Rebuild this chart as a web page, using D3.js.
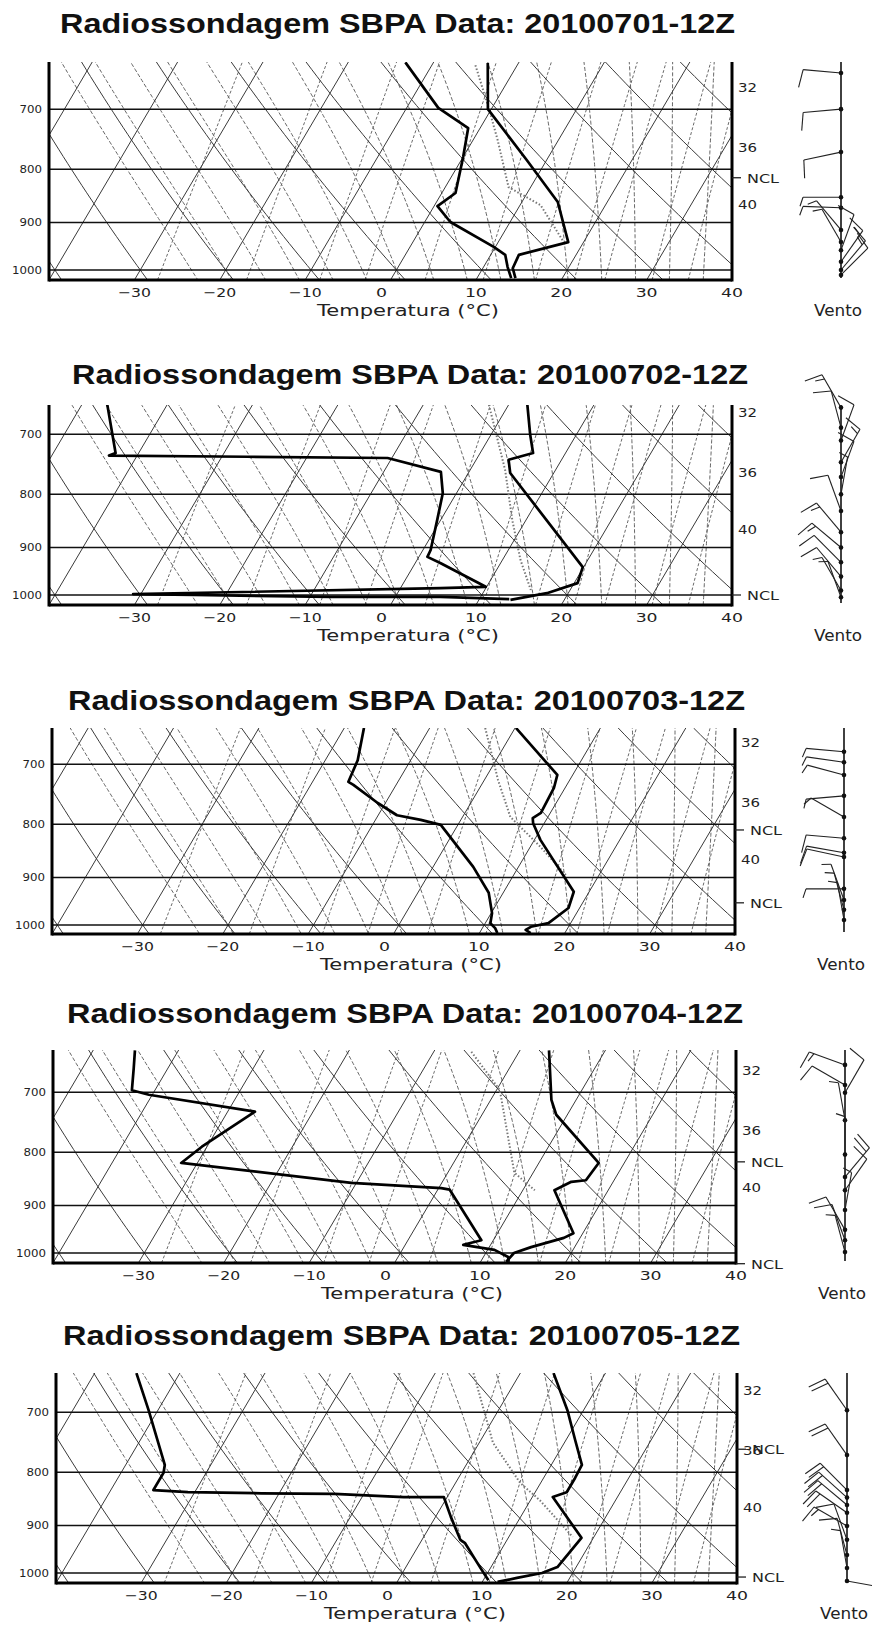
<!DOCTYPE html>
<html><head><meta charset="utf-8">
<script src="https://cdn.jsdelivr.net/npm/d3@7"></script>
<style>body{margin:0;background:#fff}</style>
</head><body>
<svg id="chart" width="872" height="1630"></svg>
<script>
// ---------------- DATA ----------------
const dates = ["20100701","20100702","20100703","20100704","20100705"];
const tempTicks = [-30,-20,-10,0,10,20,30,40];
const pressureTicks = [700,800,900,1000];
const rightTickP = [666,761,864];
const rightTickLabels = ["32","36","40"];
const nclP = [[815],[1000],[810,952],[817,1024],[760,1009]];

// [pressure hPa, temperature °C]
const temp1 = [[632,-3.6],[700,-0.4],[784,7.7],[860,14.2],[940,18.2],[967,13.3],[996,13.5],[1018,14.5]];
const dew1  = [[631,-13.3],[698,-6.3],[730,-1.4],[778,0.0],[843,1.6],[868,0.4],[899,3.0],[950,9.8],[967,11.7],[993,12.8],[1018,14.0]];
const parcel1 = [[635,-4.9],[698,-0.4],[750,2.9],[832,7.4],[866,12.4],[936,17.4]];

const temp2 = [[656,2.2],[701,4.6],[730,6.2],[741,3.8],[763,4.9],[940,19.9],[974,20.4],[996,17.5],[1011,13.7]];
const dew2  = [[656,-47.0],[730,-42.7],[734,-43.3],[736,-27.0],[738,-10.5],[761,-3.3],[798,-1.6],[847,-0.4],[905,0.9],[919,1.0],[932,3.0],[982,9.9],[985,4.7],[998,-30.9],[1000,-23.7],[1004,-7.6],[1004,5.3],[1009,13.5]];
const parcel2 = [[656,-2.3],[758,4.1],[847,8.4],[925,12.1],[989,15.4]];

const temp3 = [[646,0.1],[717,8.2],[738,8.7],[780,8.9],[789,8.3],[798,8.7],[828,10.7],[929,18.2],[963,18.7],[996,17.4],[1004,15.6],[1011,15.2],[1018,16.0]];
const dew3  = [[646,-17.7],[694,-16.2],[728,-15.8],[733,-15.0],[763,-10.9],[784,-7.8],[792,-4.7],[801,-2.0],[879,4.7],[931,8.3],[974,10.1],[996,10.6],[1007,11.5],[1018,12.1]];
const parcel3 = [[646,-3.5],[725,1.6],[787,5.6],[841,11.2],[895,16.1]];

const temp4 = [[638,3.4],[712,7.1],[736,8.7],[819,17.0],[851,16.7],[854,15.1],[870,13.7],[957,18.9],[967,18.1],[987,14.9],[1000,13.3],[1020,13.0]];
const dew4  = [[638,-45.1],[664,-44.0],[697,-42.7],[704,-40.4],[731,-26.8],[790,-30.6],[819,-31.9],[856,-10.6],[866,0.3],[869,1.4],[972,8.6],[982,6.8],[993,10.8],[1009,12.9],[1020,13.3]];
const parcel4 = [[640,-5.6],[697,0.4],[837,7.8],[870,11.4]];

const temp5 = [[642,3.9],[697,8.1],[745,11.1],[787,13.6],[810,13.7],[836,13.7],[845,12.4],[925,18.6],[987,17.8],[1000,16.4],[1011,13.8],[1020,11.8]];
const dew5  = [[642,-45.1],[697,-41.1],[787,-35.4],[801,-35.0],[832,-35.0],[836,-30.8],[838,-22.1],[839,-13.5],[845,-5.1],[845,-0.4],[883,1.8],[929,4.5],[936,5.3],[987,8.7],[1016,10.6]];
const parcel5 = [[642,-5.5],[749,1.6],[819,7.6],[851,11.1],[923,17.5]];

// [pressure hPa, direction deg, speed kt]
const wind1 = [[646,275,10],[700,265,10],[770,258,10],[851,270,5],[871,272,5],[915,320,5],[940,330,5],[957,20,10],[982,35,15],[1000,40,15],[1011,45,10]];
const wind2 = [[660,330,15],[690,345,10],[710,20,10],[745,30,15],[770,20,10],[800,10,5],[830,340,10],[870,320,15],[900,310,15],[930,315,10],[960,320,10],[990,330,5],[1005,340,5]];
const wind3 = [[681,275,5],[697,278,5],[717,285,5],[751,265,5],[787,300,5],[825,275,10],[852,280,10],[860,282,10],[923,270,5],[946,340,5],[967,345,5],[989,350,5]];
const wind4 = [[659,290,15],[689,300,10],[701,30,10],[745,350,5],[804,0,5],[845,40,20],[870,35,10],[909,10,5],[950,330,10],[972,340,10],[998,345,5]];
const wind5 = [[697,325,20],[770,325,20],[832,315,20],[846,312,20],[860,310,20],[875,305,20],[901,300,15],[929,340,10],[961,345,10],[989,350,5],[1018,100,5]];

const temps = [temp1,temp2,temp3,temp4,temp5];
const dews = [dew1,dew2,dew3,dew4,dew5];
const parcels = [parcel1,parcel2,parcel3,parcel4,parcel5];
const winds = [wind1,wind2,wind3,wind4,wind5];

// background reference-line families
const isotherms = d3.range(-120, 50, 10);
const dryAdiabats = d3.range(-40, 150, 10);
const moistAdiabats = d3.range(-24, 40, 4);
const mixingRatios = [0.4, 1, 2, 3, 5, 8, 12, 16, 20, 28, 36];

// ---------------- LAYOUT ----------------
const layout = [
 {xL:49, xR:732, yTop:62,   y1000:270,  yBot:280,  tx0:60, tx1:735, ty:33,   wx:841},
 {xL:49, xR:732, yTop:405,  y1000:595,  yBot:605,  tx0:72, tx1:748, ty:384,  wx:841},
 {xL:52, xR:735, yTop:728,  y1000:925,  yBot:934,  tx0:68, tx1:745, ty:710,  wx:844},
 {xL:53, xR:736, yTop:1050, y1000:1253, yBot:1263, tx0:67, tx1:743, ty:1023, wx:845},
 {xL:56, xR:737, yTop:1373, y1000:1573, yBot:1583, tx0:63, tx1:740, ty:1345, wx:847}
];
const skew = 0.59;
const pxPerLn = 451;

const Rd=287.04, cp=1005.7, Lv=2.501e6, eps=0.622;
function es(Tc){return 6.112*Math.exp(17.67*Tc/(Tc+243.5));}
function moistCurve(thw, pTop, pBot){
  const step=0.006;
  const f = (T,p)=>{const e=es(T-273.15); const rs=eps*e/(p-e);
    return (Rd*T+Lv*rs)/(cp+Lv*Lv*rs*eps/(Rd*T*T));};
  let T=thw+273.15, lnp=Math.log(1000);
  const up=[[1000,thw]];
  while(lnp>Math.log(pTop)-0.01){ T-=f(T,Math.exp(lnp))*step; lnp-=step; up.push([Math.exp(lnp),T-273.15]); }
  T=thw+273.15; lnp=Math.log(1000);
  const down=[];
  while(lnp<Math.log(pBot)+0.01){ T+=f(T,Math.exp(lnp))*step; lnp+=step; down.push([Math.exp(lnp),T-273.15]); }
  return down.reverse().concat(up);
}
function mixCurve(w, pTop, pBot){
  return d3.range(0,21).map(i=>{
    const p=pBot*Math.pow(pTop/pBot,i/20);
    const e=(w/1000)*p/(eps+w/1000); const L=Math.log(e/6.112);
    return [p, 243.5*L/(17.67-L)];
  });
}

const svg = d3.select("#chart");
const defs = svg.append("defs");
const labelFont = "'DejaVu Sans', sans-serif";

layout.forEach((L,i)=>{
  const g = svg.append("g");
  const yS = d3.scaleLog().domain([1000,700]).range([L.y1000, L.y1000 - pxPerLn*Math.log(1000/700)]);
  const xS = d3.scaleLinear().domain([-40,40]).range([L.xL, L.xR]);
  const pTop = yS.invert(L.yTop), pBot = yS.invert(L.yBot);
  const sx = (T,p)=> xS(T) + skew*(L.yBot - yS(p));
  const line = d3.line().x(d=>sx(d[1],d[0])).y(d=>yS(d[0]));

  defs.append("clipPath").attr("id","clip"+i).append("rect")
    .attr("x",L.xL).attr("y",L.yTop).attr("width",L.xR-L.xL).attr("height",L.yBot-L.yTop);
  const bg = g.append("g").attr("clip-path",`url(#clip${i})`).attr("fill","none");
  const pSamples = d3.range(0,31).map(k=>pBot*Math.pow(pTop/pBot,k/30));

  mixingRatios.forEach(w=>{
    bg.append("path").attr("d",line(mixCurve(w,pTop,pBot)))
      .attr("stroke","#6a6a6a").attr("stroke-width",1).attr("stroke-dasharray","3,2");
  });
  moistAdiabats.forEach(t=>{
    bg.append("path").attr("d",line(moistCurve(t,pTop,pBot)))
      .attr("stroke","#666").attr("stroke-width",1).attr("stroke-dasharray","4,2");
  });
  dryAdiabats.forEach(th=>{
    const pts = pSamples.map(p=>[p,(th+273.15)*Math.pow(p/1000,0.2857)-273.15]);
    bg.append("path").attr("d",line(pts)).attr("stroke","#3a3a3a").attr("stroke-width",1);
  });
  isotherms.forEach(t=>{
    bg.append("path").attr("d",line([[pBot,t],[pTop,t]])).attr("stroke","#3a3a3a").attr("stroke-width",1);
  });

  // pressure lines
  pressureTicks.forEach(p=>{
    g.append("line").attr("x1",L.xL).attr("x2",L.xR).attr("y1",yS(p)).attr("y2",yS(p))
      .attr("stroke","#111").attr("stroke-width",1.5);
    g.append("text").attr("x",L.xL-7).attr("y",yS(p)+4).attr("text-anchor","end")
      .attr("font-family",labelFont).attr("font-size",11).attr("fill","#222")
      .attr("textLength", String(p).length*7.5).attr("lengthAdjust","spacingAndGlyphs").text(p);
  });

  // parcel (dotted)
  g.append("path").attr("clip-path",`url(#clip${i})`).attr("d",line(parcels[i])).attr("fill","none")
    .attr("stroke","#777").attr("stroke-width",2).attr("stroke-dasharray","1.5,2");

  // profiles
  [dews[i], temps[i]].forEach(arr=>{
    g.append("path").attr("clip-path",`url(#clip${i})`).attr("d",line(arr)).attr("fill","none")
      .attr("stroke","#000").attr("stroke-width",2.7).attr("stroke-linejoin","round");
  });

  // axes frame
  g.append("line").attr("x1",L.xL).attr("x2",L.xL).attr("y1",L.yTop).attr("y2",L.yBot+1.5).attr("stroke","#000").attr("stroke-width",3);
  g.append("line").attr("x1",L.xR).attr("x2",L.xR).attr("y1",L.yTop).attr("y2",L.yBot+1.5).attr("stroke","#000").attr("stroke-width",3);
  g.append("line").attr("x1",L.xL).attr("x2",L.xR).attr("y1",L.yBot).attr("y2",L.yBot).attr("stroke","#000").attr("stroke-width",3);

  // x tick labels
  tempTicks.forEach(t=>{
    const lab = t<0 ? "\u2212"+Math.abs(t) : String(t);
    g.append("text").attr("x",xS(t) + (t===0?-9:0)).attr("y",L.yBot+17).attr("text-anchor","middle")
      .attr("font-family",labelFont).attr("font-size",13).attr("fill","#222")
      .attr("textLength", lab.length*11).attr("lengthAdjust","spacingAndGlyphs").text(lab);
  });
  g.append("text").attr("x",L.xL+359).attr("y",L.yBot+36).attr("text-anchor","middle")
    .attr("font-family",labelFont).attr("font-size",15).attr("fill","#222")
    .attr("textLength",182).attr("lengthAdjust","spacingAndGlyphs").text("Temperatura (°C)");

  // right labels
  rightTickP.forEach((p,k)=>{
    g.append("text").attr("x",L.xR+6).attr("y",yS(p)+5)
      .attr("font-family",labelFont).attr("font-size",13).attr("fill","#222")
      .attr("textLength",19).attr("lengthAdjust","spacingAndGlyphs").text(rightTickLabels[k]);
  });
  nclP[i].forEach(p=>{
    const y = yS(p);
    g.append("line").attr("x1",L.xR).attr("x2",L.xR+9).attr("y1",y).attr("y2",y).attr("stroke","#222").attr("stroke-width",1.3);
    g.append("text").attr("x",L.xR+15).attr("y",y+5)
      .attr("font-family",labelFont).attr("font-size",13).attr("fill","#222")
      .attr("textLength",32).attr("lengthAdjust","spacingAndGlyphs").text("NCL");
  });

  // title
  g.append("text").attr("x",L.tx0).attr("y",L.ty)
    .attr("font-family","'Liberation Sans', Arial, sans-serif").attr("font-weight","bold").attr("font-size",28)
    .attr("fill","#111").attr("textLength",L.tx1-L.tx0).attr("lengthAdjust","spacingAndGlyphs")
    .text(`Radiossondagem SBPA Data: ${dates[i]}-12Z`);

  // wind column
  const wg = g.append("g");
  wg.append("line").attr("x1",L.wx).attr("x2",L.wx).attr("y1",L.yTop).attr("y2",L.yBot-2).attr("stroke","#111").attr("stroke-width",1.6);
  winds[i].forEach(([p,dir,spd])=>{
    const x0=L.wx, y0=yS(p);
    const rad=dir*Math.PI/180;
    const s=[Math.sin(rad), -Math.cos(rad)];
    const b=[s[1], -s[0]];
    const len=38;
    const ex=x0+s[0]*len, ey=y0+s[1]*len;
    wg.append("line").attr("x1",x0).attr("y1",y0).attr("x2",ex).attr("y2",ey).attr("stroke","#222").attr("stroke-width",1.1);
    let rem=spd;
    const barbs=[];
    while(rem>=10){barbs.push(18); rem-=10;}
    if(rem>=5){barbs.push(9);}
    barbs.forEach((bl,k)=>{
      const bx=ex - s[0]*k*5, by=ey - s[1]*k*5;
      wg.append("line").attr("x1",bx).attr("y1",by)
        .attr("x2",bx+b[0]*bl+s[0]*3).attr("y2",by+b[1]*bl+s[1]*3)
        .attr("stroke","#222").attr("stroke-width",1.1);
    });
    wg.append("circle").attr("cx",x0).attr("cy",y0).attr("r",2.3).attr("fill","#111");
  });
  g.append("text").attr("x",L.wx-3).attr("y",L.yBot+36).attr("text-anchor","middle")
    .attr("font-family",labelFont).attr("font-size",15).attr("fill","#222")
    .attr("textLength",48).attr("lengthAdjust","spacingAndGlyphs").text("Vento");
});
</script>
</body></html>
